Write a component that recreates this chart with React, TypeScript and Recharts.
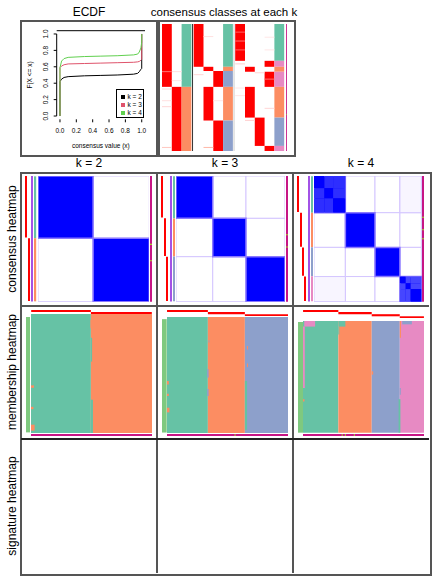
import React from "react";
import {
  ComposedChart,
  Line,
  XAxis,
  YAxis,
  ReferenceArea,
  ReferenceLine,
  Legend,
} from "recharts";

const FONT = '"Liberation Sans", Arial, Helvetica, sans-serif';

const kValues = [2, 3, 4];
const classColors = ["#66C2A5", "#FC8D62", "#8DA0CB", "#E78AC3"];
const ecdfColors = ["#000000", "#DF536B", "#61D04F"];
const probRed = "#FF0000";
const silhouetteColor = "#A352E6";
const magenta = "#C71585";
const tickGreen = "#A6D22E";
const rowGreen = "#7FC97F";

// ECDF of the consensus values
const ecdfX = [0, 0, 0.02, 0.05, 0.1, 0.3, 0.5, 0.7, 0.9, 0.95, 0.97, 0.99, 1, 1];
const ecdfK2 = [0, 0.42, 0.45, 0.47, 0.48, 0.49, 0.495, 0.5, 0.51, 0.52, 0.54, 0.57, 0.58, 1];
const ecdfK3 = [0, 0.59, 0.61, 0.625, 0.635, 0.64, 0.645, 0.65, 0.655, 0.66, 0.665, 0.68, 0.69, 1];
const ecdfK4 = [0, 0.59, 0.67, 0.7, 0.715, 0.725, 0.73, 0.735, 0.745, 0.755, 0.78, 0.83, 0.9, 1];
const ecdfTicks = [0, 0.2, 0.4, 0.6, 0.8, 1];

// class boundaries (fraction of samples), samples sorted by class
const breaksK2 = [0, 0.495, 1];
const breaksK3 = [0, 0.337, 0.642, 1];
const breaksK4 = [0, 0.292, 0.568, 0.8, 1];

// classes along the k = 2 sample order (top right panel)
const orderedK2 = [
  { from: 0, to: 0.495, cls: 0 },
  { from: 0.495, to: 1, cls: 1 },
];
const orderedK3 = [
  { from: 0, to: 0.337, cls: 0 },
  { from: 0.337, to: 0.37, cls: 1 },
  { from: 0.37, to: 0.495, cls: 2 },
  { from: 0.495, to: 0.76, cls: 1 },
  { from: 0.76, to: 1, cls: 2 },
];
const orderedK4 = [
  { from: 0, to: 0.29, cls: 0 },
  { from: 0.29, to: 0.337, cls: 3 },
  { from: 0.337, to: 0.376, cls: 1 },
  { from: 0.376, to: 0.495, cls: 3 },
  { from: 0.495, to: 0.737, cls: 1 },
  { from: 0.737, to: 0.96, cls: 2 },
  { from: 0.96, to: 1, cls: 3 },
];
// weak probabilities showing as pale stripes: [k index, column, position, colour]
const paleStripes: [number, number, number, string][] = [
  [0, 0, 0.508, "#FFD6D6"], [0, 0, 0.6, "#FFE0E0"], [0, 0, 0.647, "#FFD6D6"], [0, 0, 0.968, "#FFC8C0"],
  [0, 1, 0.371, "#FFE0E0"], [0, 1, 0.442, "#FFE6E6"], [0, 0, 0.371, "#FF7070"],
  [1, 0, 0.395, "#FFD6D6"], [1, 1, 0.095, "#FFE0E0"], [1, 1, 0.968, "#FFB8A8"], [1, 2, 0.6, "#FFE6E6"],
  [2, 0, 0.06, "#FF6060"], [2, 0, 0.13, "#FF7070"], [2, 0, 0.2, "#FF6060"], [2, 0, 0.31, "#FFD0D0"],
  [2, 0, 0.5, "#FFE6E6"], [2, 0, 0.56, "#FFE6E6"], [2, 1, 0.755, "#FFD0D0"], [2, 3, 0.1, "#FFE6E6"],
  [2, 3, 0.2, "#FFE6E6"], [2, 3, 0.66, "#FFD6D6"], [2, 2, 0.38, "#FFD6D6"], [2, 3, 0.43, "#FF7070"],
];
const classesMagentaTicks = [0.71];

// consensus heatmap extras
const subBreaksK4First = [0, 0.097, 0.178, 0.292];
const subBreaksK4Last = [0.8, 0.854, 0.9, 1];
const consensusMagentaTicks = [[0.54, 0.67], [0.464, 0.56], [0.324, 0.424, 0.496]];

// membership heatmap: stray calls [x1, x2, y1, y2, class]
const membStrayK2: [number, number, number, number, number][] = [
  [0, 0.025, 0.6, 0.62, 1], [0, 0.03, 0.93, 0.98, 1], [0, 0.02, 0.78, 0.8, 1],
  [0.495, 0.512, 0.72, 1, 0], [0.495, 0.505, 0.2, 0.4, 0], [0.49, 0.495, 0.05, 0.12, 1],
];
const membStrayK3: [number, number, number, number, number][] = [
  [0, 0.015, 0.55, 0.58, 1], [0, 0.015, 0.66, 0.68, 1], [0, 0.02, 0.78, 0.82, 1],
  [0.33, 0.343, 0.45, 0.52, 2], [0.33, 0.343, 0.62, 0.68, 2], [0.343, 0.35, 0.2, 0.22, 2],
  [0.642, 0.66, 0.55, 0.97, 0], [0.66, 0.668, 0.25, 0.28, 1], [0.66, 0.668, 0.4, 0.43, 1],
];
const membStrayK4: [number, number, number, number, number][] = [
  [0.01, 0.1, 0, 0.05, 3], [0, 0.015, 0.05, 0.6, 3], [0, 0.012, 0.7, 0.72, 1],
  [0.292, 0.35, 0, 0.05, 0], [0.292, 0.3, 0.05, 0.12, 0],
  [0.82, 0.9, 0, 0.03, 2], [0.79, 0.805, 0.7, 1, 0], [0.8, 0.81, 0, 0.15, 1],
  [0.568, 0.58, 0.45, 0.48, 1], [0.8, 0.808, 0.6, 0.66, 2],
];
const membBottomTicks = [[], [0.557], [0.32, 0.346, 0.42]];

const breaksByK = [breaksK2, breaksK3, breaksK4];
const orderedByK = [orderedK2, orderedK3, orderedK4];
const membStrayByK = [membStrayK2, membStrayK3, membStrayK4];
const ecdfByK = [ecdfK2, ecdfK3, ecdfK4];

type Tile = { x1: number; x2: number; y1: number; y2: number; fill: string; stroke?: string; sw?: number };

const Tiles = ({
  left, top, width, height, xMax = 1, yMax = 1, tiles, vlines = [],
}: {
  left: number; top: number; width: number; height: number;
  xMax?: number; yMax?: number; tiles: Tile[]; vlines?: { x: number; color: string }[];
}) => {
  const corners = [{ x: 0, y: 0 }, { x: xMax, y: yMax }];
  return (
    <div style={{ position: "absolute", left, top, width, height }}>
      <ComposedChart width={width} height={height} data={corners} margin={{ top: 0, right: 0, bottom: 0, left: 0 }}>
        <XAxis type="number" dataKey="x" domain={[0, xMax]} hide />
        <YAxis type="number" dataKey="y" domain={[0, yMax]} hide reversed />
        <Line dataKey="y" stroke="none" dot={false} activeDot={false} isAnimationActive={false} />
        {tiles.map((t, i) => (
          <ReferenceArea
            key={i}
            x1={t.x1}
            x2={t.x2}
            y1={t.y1}
            y2={t.y2}
            fill={t.fill}
            fillOpacity={1}
            stroke={t.stroke ?? "none"}
            strokeWidth={t.sw ?? 0}
            ifOverflow="visible"
          />
        ))}
        {vlines.map((l, i) => (
          <ReferenceLine key={"l" + i} x={l.x} stroke={l.color} strokeWidth={1} ifOverflow="visible" />
        ))}
      </ComposedChart>
    </div>
  );
};

const segTiles = (segs: { from: number; to: number; fill: string }[]): Tile[] =>
  segs.map((s) => ({ x1: 0, x2: 1, y1: s.from, y2: s.to, fill: s.fill }));

const RotatedTick = (props: any) => {
  const { x, y, payload } = props;
  const tx = x - 4;
  return (
    <text x={tx} y={y} transform={`rotate(-90, ${tx}, ${y})`} textAnchor="middle" fontSize={6.5} fontFamily={FONT} fill="#000">
      {Number(payload.value).toFixed(1)}
    </text>
  );
};

const EcdfLegend = () => (
  <div style={{ border: "1px solid #000", background: "#fff", width: 28, height: 29, boxSizing: "border-box", padding: "3px 0 0 4px", fontFamily: FONT, fontSize: 6.5, lineHeight: "8px" }}>
    {kValues.map((k, i) => (
      <div key={k} style={{ display: "flex", alignItems: "center", whiteSpace: "nowrap" }}>
        <span style={{ display: "inline-block", width: 3.5, height: 3.5, background: ecdfColors[i], marginRight: 3 }} />
        {`k = ${k}`}
      </div>
    ))}
  </div>
);

const EcdfChart = () => (
  <div style={{ position: "absolute", left: 20, top: 20 }}>
    <ComposedChart width={137} height={133} margin={{ top: 10.7, right: 12, bottom: 0, left: 0 }}>
      <XAxis
        type="number"
        dataKey="x"
        domain={[-0.04, 1.04]}
        ticks={ecdfTicks}
        interval={0}
        tickFormatter={(v: number) => v.toFixed(1)}
        axisLine={false}
        tickLine={{ stroke: "#000" }}
        tickSize={3}
        tickMargin={6.5}
        height={33.7}
        tick={{ fontSize: 6.5, fill: "#000", fontFamily: FONT }}
        label={{ value: "consensus value (x)", position: "insideBottom", offset: 5, fontSize: 6.5, fill: "#000", fontFamily: FONT }}
      />
      <YAxis
        type="number"
        dataKey="y"
        domain={[-0.04, 1.04]}
        ticks={ecdfTicks}
        interval={0}
        width={36.7}
        axisLine={false}
        tickLine={{ stroke: "#000" }}
        tickSize={3}
        tick={<RotatedTick />}
        label={{ value: "F(X <= x)", angle: -90, position: "insideLeft", offset: 10, fontSize: 6.5, fill: "#000", fontFamily: FONT, style: { textAnchor: "middle" } }}
      />
      <ReferenceLine segment={[{ x: -0.04, y: 0 }, { x: -0.04, y: 1 }]} stroke="#000" ifOverflow="visible" />
      <ReferenceLine y={1.04} stroke="#000" ifOverflow="visible" />
      {kValues.map((k, i) => (
        <Line
          key={k}
          data={ecdfX.map((x, j) => ({ x, y: ecdfByK[i][j] }))}
          dataKey="y"
          name={`k = ${k}`}
          type="linear"
          stroke={ecdfColors[i]}
          strokeWidth={1}
          dot={false}
          isAnimationActive={false}
        />
      ))}
      <Legend
        layout="horizontal"
        align="center"
        verticalAlign="middle"
        wrapperStyle={{ position: "absolute", left: 96, top: 69, width: 28, height: 29 }}
        content={() => <EcdfLegend />}
      />
    </ComposedChart>
  </div>
);

// top right: classes at each k in the k = 2 order
const COLS_GAP = 0.235;
const ClassesPanel = () => {
  const tiles: Tile[] = [];
  const seps: { x: number; color: string }[] = [];
  let start = 0;
  kValues.forEach((k, g) => {
    orderedByK[g].forEach((s) => {
      tiles.push({ x1: start + s.cls, x2: start + s.cls + 1, y1: s.from, y2: s.to, fill: probRed });
      tiles.push({ x1: start + k, x2: start + k + 1, y1: s.from, y2: s.to, fill: classColors[s.cls] });
    });
    paleStripes
      .filter((p) => p[0] === g)
      .forEach((p) => tiles.push({ x1: start + p[1], x2: start + p[1] + 1, y1: p[2], y2: p[2] + 0.008, fill: p[3] }));
    start += k + 1;
    if (g < 2) {
      seps.push({ x: start + COLS_GAP / 2, color: g === 0 ? "#333" : "#ccc" });
      start += COLS_GAP;
    }
  });
  const magStart = start + 0.2;
  tiles.push({ x1: magStart, x2: magStart + 0.17, y1: 0, y2: 1, fill: magenta });
  classesMagentaTicks.forEach((t) => tiles.push({ x1: magStart, x2: magStart + 0.17, y1: t, y2: t + 0.006, fill: tickGreen }));
  return <Tiles left={161.7} top={24} width={125.8} height={127} xMax={magStart + 0.17} tiles={tiles} vlines={seps} />;
};

const consensusGeom = [
  { heatLeft: 37.7, heatRight: 149, magLeft: 150 },
  { heatLeft: 176, heatRight: 285, magLeft: 285.7 },
  { heatLeft: 314.3, heatRight: 421.7, magLeft: 422 },
];
const HEAT_TOP = 176;
const HEAT_H = 125.7;

const consensusTiles = (g: number): Tile[] => {
  const br = breaksByK[g];
  const tiles: Tile[] = [];
  for (let i = 0; i < br.length - 1; i++) {
    for (let j = 0; j < br.length - 1; j++) {
      if (i !== j) tiles.push({ x1: br[j], x2: br[j + 1], y1: br[i], y2: br[i + 1], fill: "#FFFFFF", stroke: "#D4C6FF", sw: 1 });
    }
  }
  if (g === 2) {
    tiles.push({ x1: br[3], x2: br[4], y1: br[0], y2: br[1], fill: "#F8F5FF", stroke: "#D4C6FF", sw: 1 });
    tiles.push({ x1: br[0], x2: br[1], y1: br[3], y2: br[4], fill: "#F8F5FF", stroke: "#D4C6FF", sw: 1 });
  }
  for (let i = 0; i < br.length - 1; i++) {
    tiles.push({ x1: br[i], x2: br[i + 1], y1: br[i], y2: br[i + 1], fill: "#0000FF", stroke: "#8A78FF", sw: 1.5 });
  }
  if (g === 2) {
    [subBreaksK4First, subBreaksK4Last].forEach((sb, n) => {
      for (let i = 0; i < sb.length - 1; i++) {
        for (let j = 0; j < sb.length - 1; j++) {
          tiles.push({
            x1: sb[j], x2: sb[j + 1], y1: sb[i], y2: sb[i + 1],
            fill: i === j ? "#0000FF" : n === 0 ? "#2E2EFF" : "#4646FF",
          });
        }
      }
    });
  }
  return tiles;
};

const ConsensusPanel = ({ g }: { g: number }) => {
  const k = kValues[g];
  const geo = consensusGeom[g];
  const br = breaksByK[g];
  const strips: React.ReactNode[] = [];
  for (let c = 0; c < k; c++) {
    strips.push(
      <Tiles
        key={"p" + c}
        left={geo.heatLeft - 7.7 - (k - c) * 2.35}
        top={HEAT_TOP}
        width={2}
        height={HEAT_H}
        tiles={segTiles([{ from: br[c], to: br[c + 1] - 0.006, fill: probRed }])}
      />
    );
  }
  const classSegs = br.slice(0, -1).map((b, c) => ({ from: b, to: br[c + 1], fill: classColors[c] }));
  const magSegs = [{ from: 0, to: 1, fill: magenta }, ...consensusMagentaTicks[g].map((t) => ({ from: t, to: t + 0.008, fill: tickGreen }))];
  return (
    <>
      {strips}
      <Tiles left={geo.heatLeft - 6.5} top={HEAT_TOP} width={2.3} height={HEAT_H} tiles={segTiles([{ from: 0, to: 1, fill: silhouetteColor }])} />
      <Tiles left={geo.heatLeft - 3.3} top={HEAT_TOP} width={2.2} height={HEAT_H} tiles={segTiles(classSegs)} />
      <Tiles left={geo.heatLeft} top={HEAT_TOP} width={geo.heatRight - geo.heatLeft} height={HEAT_H} tiles={consensusTiles(g)} />
      <Tiles left={geo.magLeft} top={HEAT_TOP} width={2} height={HEAT_H} tiles={segTiles(magSegs)} />
    </>
  );
};

const membGeom = [
  { rowLeft: 26, rowW: 4, rowTop: 317.3, left: 31, right: 152, areaTop: 314 },
  { rowLeft: 162, rowW: 4.7, rowTop: 319, left: 166.7, right: 288, areaTop: 316.7 },
  { rowLeft: 298, rowW: 5, rowTop: 322, left: 303, right: 424, areaTop: 321.3 },
];
const MEMB_BOTTOM = 433;

const MembershipPanel = ({ g }: { g: number }) => {
  const k = kValues[g];
  const geo = membGeom[g];
  const br = breaksByK[g];
  const w = geo.right - geo.left;
  const bars: Tile[] = br.slice(0, -1).map((b, c) => ({ x1: b, x2: br[c + 1], y1: c, y2: c + 1, fill: probRed }));
  const area: Tile[] = br.slice(0, -1).map((b, c) => ({ x1: b, x2: br[c + 1], y1: 0, y2: 1, fill: classColors[c] }));
  membStrayByK[g].forEach((s) => area.push({ x1: s[0], x2: s[1], y1: s[2], y2: s[3], fill: classColors[s[4]] }));
  const bottom: Tile[] = [{ x1: 0, x2: 1, y1: 0, y2: 1, fill: magenta }, ...membBottomTicks[g].map((t) => ({ x1: t, x2: t + 0.008, y1: 0, y2: 1, fill: tickGreen }))];
  return (
    <>
      <Tiles left={geo.rowLeft} top={geo.rowTop} width={geo.rowW} height={432.7 - geo.rowTop} tiles={[{ x1: 0, x2: 1, y1: 0, y2: 1, fill: rowGreen }]} />
      <Tiles left={geo.left} top={310} width={w} height={k * 2.1} yMax={k} tiles={bars} />
      <Tiles left={geo.left} top={geo.areaTop} width={w} height={MEMB_BOTTOM - geo.areaTop} tiles={area} />
      <Tiles left={geo.left} top={434} width={w} height={2} tiles={bottom} />
    </>
  );
};

const Text = ({ x, y, children, rotate = false, size = 12 }: { x: number; y: number; children: React.ReactNode; rotate?: boolean; size?: number }) => (
  <div
    style={{
      position: "absolute", left: x - 100, top: y - 8, width: 200, height: 16, lineHeight: "16px",
      textAlign: "center", fontSize: size, fontFamily: FONT, color: "#000", whiteSpace: "nowrap",
      transform: rotate ? "rotate(-90deg)" : undefined,
    }}
  >
    {children}
  </div>
);

const Box = ({ l, t, r, b, color = "#555", w = 2 }: { l: number; t: number; r: number; b: number; color?: string; w?: number }) => (
  <div style={{ position: "absolute", left: l - w / 2, top: t - w / 2, width: r - l, height: b - t, border: `${w}px solid ${color}`, boxSizing: "content-box" }} />
);

const Rule = ({ x1, y1, x2, y2, color = "#555", w = 2 }: { x1: number; y1: number; x2: number; y2: number; color?: string; w?: number }) => (
  <div style={{ position: "absolute", left: x1 - (x1 === x2 ? w / 2 : 0), top: y1 - (y1 === y2 ? w / 2 : 0), width: x1 === x2 ? w : x2 - x1, height: y1 === y2 ? w : y2 - y1, background: color }} />
);

export default function App() {
  return (
    <div style={{ position: "absolute", left: 0, top: 0, width: 432, height: 576, background: "#fff", overflow: "hidden", fontFamily: FONT }}>
      <Text x={89} y={12}>ECDF</Text>
      <Text x={224} y={12} size={11.5}>consensus classes at each k</Text>
      <Box l={20.5} t={20.5} r={157} b={153.5} />
      <Box l={157} t={20.5} r={292.5} b={153.5} />
      <EcdfChart />
      <ClassesPanel />

      {kValues.map((k, g) => (
        <Text key={k} x={89 + g * 136} y={163}>{`k = ${k}`}</Text>
      ))}
      <Text x={12} y={239} rotate>consensus heatmap</Text>
      <Text x={12} y={372} rotate>membership heatmap</Text>
      <Text x={12} y={506} rotate>signature heatmap</Text>

      {kValues.map((k, g) => (
        <ConsensusPanel key={"c" + k} g={g} />
      ))}
      {kValues.map((k, g) => (
        <MembershipPanel key={"m" + k} g={g} />
      ))}

      <Box l={21} t={172.5} r={429} b={573} />
      <Rule x1={157} y1={172.5} x2={157} y2={573} />
      <Rule x1={293} y1={172.5} x2={293} y2={573} />
      <Rule x1={21} y1={305.5} x2={429} y2={305.5} />
      <Rule x1={21} y1={439} x2={429} y2={439} color="#222" w={1.5} />
    </div>
  );
}
